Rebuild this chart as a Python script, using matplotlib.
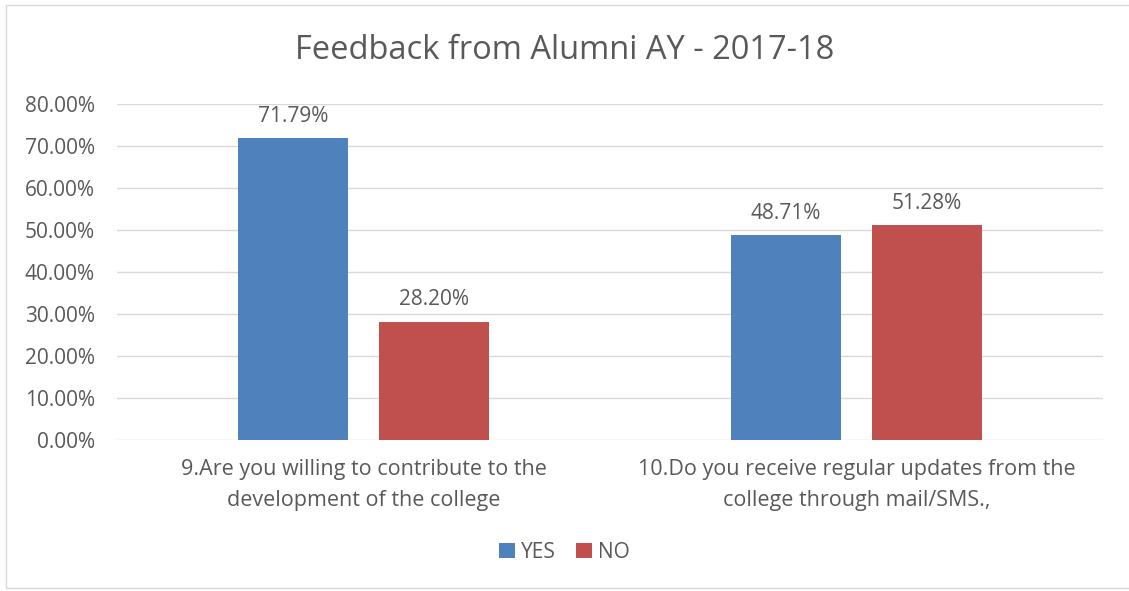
import matplotlib.pyplot as plt
import numpy as np
from matplotlib.patches import Rectangle
from matplotlib.ticker import PercentFormatter

plt.rcParams['font.family'] = ['Open Sans', 'DejaVu Sans']

categories = ["9.Are you willing to contribute to the\ndevelopment of the college",
              "10.Do you receive regular updates from the\ncollege through mail/SMS.,"]
yes = [71.79, 48.71]
no = [28.20, 51.28]
yes_labels = ["71.79%", "48.71%"]
no_labels = ["28.20%", "51.28%"]

txt = '#595959'
blue = '#4f81bd'
red = '#c0504d'

fig = plt.figure(figsize=(11.29, 5.91), dpi=100)
fig.patches.append(Rectangle((6/1129, 3/591), 1125/1129, 583/591, transform=fig.transFigure,
                             fill=False, edgecolor='#d9d9d9', linewidth=1))
ax = fig.add_axes([117/1129, 151/591, 986/1129, 336/591])

x = np.arange(len(categories))
w = 0.223
off = 0.143
b1 = ax.bar(x - off, yes, w, color=blue, label='YES', zorder=3)
b2 = ax.bar(x + off, no, w, color=red, label='NO', zorder=3)

# value labels above each bar
for bars, labs in [(b1, yes_labels), (b2, no_labels)]:
    for b, l in zip(bars, labs):
        ax.annotate(l, (b.get_x() + b.get_width()/2, b.get_height()), xytext=(0, 8),
                    textcoords='offset points', ha='center', va='bottom', fontsize=15, color=txt)

ax.set_ylim(0, 80)
ax.set_xlim(-0.5, 1.5)
ax.set_yticks(np.arange(0, 81, 10))
ax.yaxis.set_major_formatter(PercentFormatter(decimals=2))
ax.set_xticks(x)
ax.set_xticklabels(categories, fontsize=15.5, color=txt, linespacing=1.6)
ax.tick_params(axis='y', labelsize=15, labelcolor=txt, length=0, pad=16)
ax.tick_params(axis='x', length=0, pad=14)
ax.grid(axis='y', color='#d9d9d9', linewidth=1, zorder=0)
for s in ax.spines.values():
    s.set_visible(False)

fig.suptitle("Feedback from Alumni AY - 2017-18", y=0.943, fontsize=23.5, color=txt)
leg = fig.legend(loc='center', ncol=2, frameon=False,
                 fontsize=15, labelcolor=txt, handlelength=0.75, handleheight=0.75,
                 handletextpad=0.3, columnspacing=1.0)
leg.set_bbox_to_anchor((0.5, 1 - 552/591), transform=fig.transFigure)

fig.savefig('out.png', dpi=100)
